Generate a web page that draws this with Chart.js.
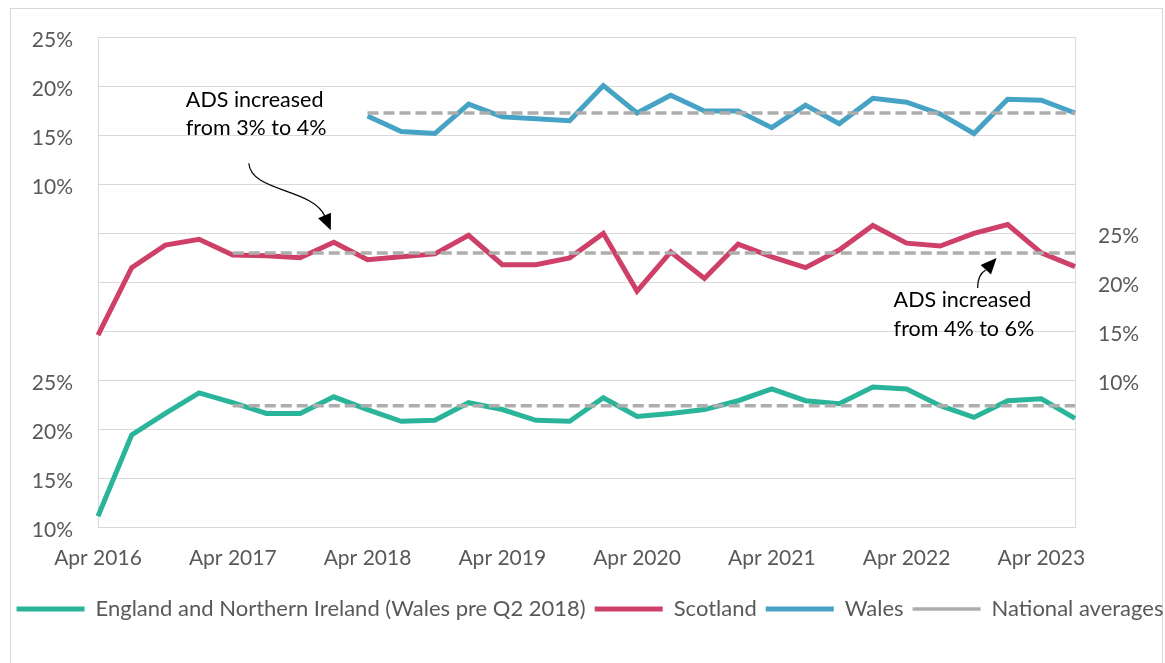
<!DOCTYPE html>
<html>
<head>
<meta charset="utf-8">
<script src="https://cdn.jsdelivr.net/npm/chart.js@4.4.0/dist/chart.umd.min.js"></script>
<style>
  html, body { margin: 0; padding: 0; background: #fff; overflow: hidden; }
  #frame { position: absolute; left: 10px; top: 8px; width: 1151px; height: 700px; border: 1px solid #d9d9d9; }
  #wrap { position: absolute; left: 0; top: 0; width: 1165px; height: 663px; overflow: hidden; }
</style>
</head>
<body>
<div id="frame"></div>
<div id="wrap"><canvas id="chart" width="1180" height="663"></canvas></div>
<script>
const quarters = [
  'Apr 2016', 'Jul 2016', 'Oct 2016', 'Jan 2017', 'Apr 2017', 'Jul 2017', 'Oct 2017', 'Jan 2018',
  'Apr 2018', 'Jul 2018', 'Oct 2018', 'Jan 2019', 'Apr 2019', 'Jul 2019', 'Oct 2019', 'Jan 2020',
  'Apr 2020', 'Jul 2020', 'Oct 2020', 'Jan 2021', 'Apr 2021', 'Jul 2021', 'Oct 2021', 'Jan 2022',
  'Apr 2022', 'Jul 2022', 'Oct 2022', 'Jan 2023', 'Apr 2023', 'Jul 2023'
];

// share of transactions paying the additional dwelling rates, %
const englandShare = [
  11.1, 19.4, 21.6, 23.7, 22.7, 21.6, 21.6, 23.3, 22.0, 20.8, 20.9, 22.7, 22.0, 20.9, 20.8,
  23.2, 21.3, 21.6, 22.0, 22.9, 24.1, 22.9, 22.6, 24.3, 24.1, 22.4, 21.2, 22.9, 23.1, 21.1
];
const scotlandShare = [
  14.6, 21.5, 23.8, 24.4, 22.8, 22.7, 22.5, 24.1, 22.3, 22.6, 22.9, 24.8, 21.8, 21.8, 22.5,
  25.0, 19.1, 23.1, 20.4, 23.9, 22.6, 21.5, 23.3, 25.8, 24.0, 23.7, 25.0, 25.9, 23.0, 21.6
];
const walesShare = [
  null, null, null, null, null, null, null, null, 17.0, 15.4, 15.2, 18.2, 16.9, 16.7, 16.5,
  20.1, 17.3, 19.1, 17.5, 17.5, 15.8, 18.1, 16.2, 18.8, 18.4, 17.2, 15.2, 18.7, 18.6, 17.3
];

// national averages and the quarter each one is measured from
const averageNames = ['England', 'Scotland', 'Wales'];
const averageValues = [22.4, 23.0, 17.3];
const averageFrom = ['Apr 2017', 'Apr 2017', 'Apr 2018'];

const percentTicks = [10, 15, 20, 25];

const GREEN = '#2ab59a', RED = '#cf4068', BLUE = '#46a3c5', GREY = '#adadad';
const GRID = '#d9d9d9', TEXT = '#595959';
const FONT = {family: 'Lato', size: 21};

// blank (not null) keeps the grid line of unlabelled steps
const tickLabel = v => percentTicks.includes(v) ? v + '%' : '';

const averageSet = (i) => ({
  label: 'National averages',
  data: [
    {x: averageFrom[i], y: averageValues[i]},
    {x: quarters[quarters.length - 1], y: averageValues[i]}
  ],
  yAxisID: 'y' + averageNames[i],
  borderColor: GREY,
  borderWidth: 3.5,
  borderDash: [11, 5],
  pointRadius: 0,
  order: 0
});

function arrow(ctx, pts, tip) {
  // pts: tail, control 1, control 2, base of the head
  ctx.beginPath();
  ctx.moveTo(pts[0][0], pts[0][1]);
  ctx.bezierCurveTo(pts[1][0], pts[1][1], pts[2][0], pts[2][1], pts[3][0], pts[3][1]);
  ctx.lineWidth = 1.2;
  ctx.stroke();
  const dx = tip[0] - pts[3][0], dy = tip[1] - pts[3][1];
  const len = Math.hypot(dx, dy);
  const ux = dx / len, uy = dy / len;
  const back = 16, half = 7;
  const bx = tip[0] - ux * back, by = tip[1] - uy * back;
  ctx.beginPath();
  ctx.moveTo(tip[0], tip[1]);
  ctx.lineTo(bx - uy * half, by + ux * half);
  ctx.lineTo(bx + uy * half, by - ux * half);
  ctx.closePath();
  ctx.fill();
}

const adsNotes = {
  id: 'adsNotes',
  afterDatasetsDraw(chart) {
    const {ctx} = chart;
    const x = chart.scales.x, yS = chart.scales.yScotland;
    ctx.save();
    ctx.fillStyle = '#000';
    ctx.strokeStyle = '#000';
    ctx.font = '21.5px Lato';
    ctx.textBaseline = 'middle';
    ctx.textAlign = 'left';

    // 3% -> 4%: points at the Jan 2018 Scotland quarter
    const a = [x.getPixelForValue(7) - 3, yS.getPixelForValue(scotlandShare[7]) - 12];
    ctx.fillText('ADS increased', a[0] - 145, a[1] - 130);
    ctx.fillText('from 3% to 4%', a[0] - 145, a[1] - 102);
    arrow(ctx, [[a[0] - 82, a[1] - 67], [a[0] - 80, a[1] - 38], [a[0] - 18, a[1] - 42], [a[0] - 6, a[1] - 14]], a);

    // 4% -> 6%: points at the Scotland average line
    const b = [x.getPixelForValue(27) - 11, yS.getPixelForValue(averageValues[1]) + 5];
    ctx.fillText('ADS increased', b[0] - 103, b[1] + 42);
    ctx.fillText('from 4% to 6%', b[0] - 103, b[1] + 71);
    arrow(ctx, [[b[0] - 19, b[1] + 30], [b[0] - 19, b[1] + 20], [b[0] - 16, b[1] + 15], [b[0] - 11, b[1] + 12]], b);
    ctx.restore();
  }
};

function draw() {
  new Chart(document.getElementById('chart'), {
    type: 'line',
    data: {
      labels: quarters,
      datasets: [
        {label: 'England and Northern Ireland (Wales pre Q2 2018)', data: englandShare, yAxisID: 'yEngland',
          borderColor: GREEN, borderWidth: 5, pointRadius: 0, order: 1},
        {label: 'Scotland', data: scotlandShare, yAxisID: 'yScotland',
          borderColor: RED, borderWidth: 5, pointRadius: 0, order: 1},
        {label: 'Wales', data: walesShare, yAxisID: 'yWales',
          borderColor: BLUE, borderWidth: 5, pointRadius: 0, order: 1},
        averageSet(0), averageSet(1), averageSet(2)
      ]
    },
    options: {
      responsive: false,
      animation: false,
      layout: {padding: {left: 0, right: 0, top: 37, bottom: 33}},
      plugins: {
        tooltip: {enabled: false},
        legend: {
          position: 'bottom',
          labels: {
            usePointStyle: true,
            pointStyle: 'line',
            pointStyleWidth: 68,
            padding: 9,
            color: TEXT,
            font: {family: 'Lato', size: 22},
            sort: (a, b) => a.datasetIndex - b.datasetIndex,
            filter: (item) => item.datasetIndex < 4
          }
        }
      },
      scales: {
        x: {
          offset: false,
          grid: {display: false},
          border: {display: false},
          ticks: {
            autoSkip: false, maxRotation: 0, padding: 11, color: TEXT, font: FONT,
            callback: (v, i) => quarters[i].startsWith('Apr') ? quarters[i] : null
          },
          afterFit: s => { s.height = 62; }
        },
        // left stack: England listed first ends up in the lower slot
        yEngland: {
          position: 'left', stack: 'left', stackWeight: 1,
          min: 10, max: 35,
          grid: {color: GRID, drawTicks: false},
          border: {color: GRID},
          ticks: {stepSize: 5, padding: 25, labelOffset: 3, color: TEXT, font: FONT, callback: tickLabel},
          afterFit: s => { s.width = 98; }
        },
        yWales: {
          position: 'left', stack: 'left', stackWeight: 1,
          min: 0, max: 25,
          grid: {color: GRID, drawTicks: false},
          border: {color: GRID},
          ticks: {stepSize: 5, padding: 25, labelOffset: 3, color: TEXT, font: FONT, callback: tickLabel},
          afterFit: s => { s.width = 98; }
        },
        yScotland: {
          position: 'right',
          min: -5, max: 45,
          grid: {display: false, drawTicks: false},
          border: {color: GRID},
          ticks: {stepSize: 5, padding: 23, labelOffset: 3, color: TEXT, font: FONT, callback: tickLabel},
          afterFit: s => { s.width = 105; }
        }
      }
    },
    plugins: [adsNotes]
  });
}

document.fonts.load('21px Lato').then(draw, draw);
</script>
</body>
</html>
